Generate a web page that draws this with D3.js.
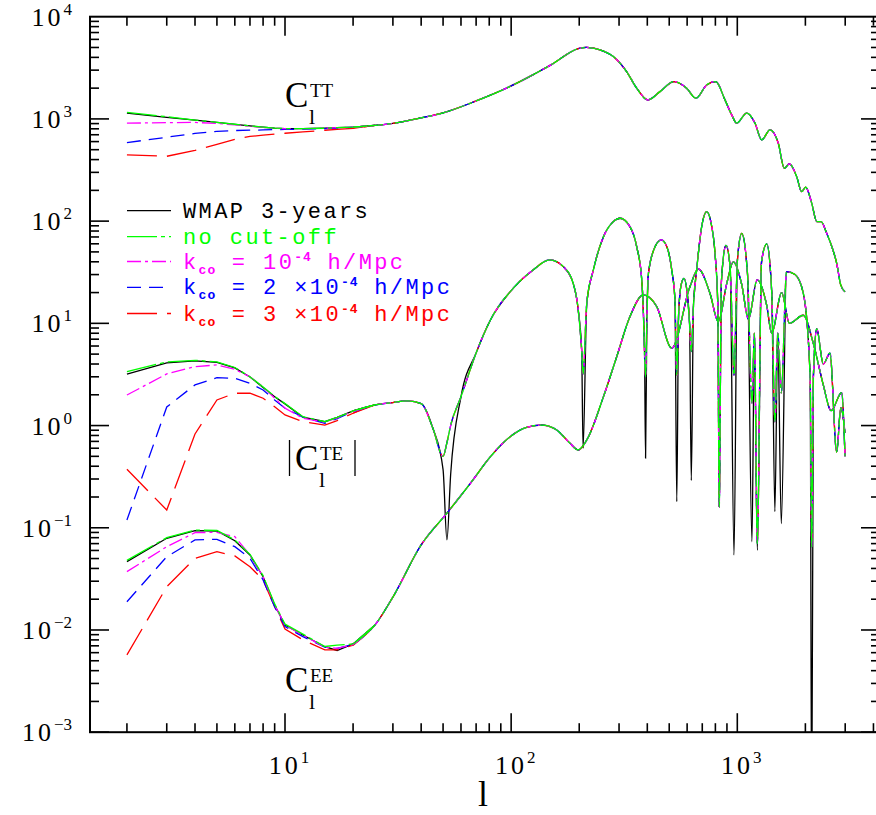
<!DOCTYPE html>
<html>
<head>
<meta charset="utf-8">
<script src="https://cdn.jsdelivr.net/npm/d3@7"></script>
<style>
body { margin: 0; background: #fff; }
text { font-family: "Liberation Serif", serif; }
.leg { font-family: "Liberation Mono", monospace; }
</style>
</head>
<body>
<svg id="chart" width="876" height="815"></svg>
<script>
// multipoles sampled at low l (every model has its own values here)
var lowL = [2, 3, 4, 5, 6, 7, 8, 9, 10, 12, 15, 17, 20]

// order: WMAP, no cut-off, 1e-4, 2e-4, 3e-4
var ttLow = [
    [1137, 1037, 971, 924, 886, 854, 829, 811, 804, 803, 811, 820, 831],
    [1160, 1050, 975, 926, 887, 855, 830, 812, 805, 803, 811, 820, 831],
    [908, 920, 924, 903, 874, 848, 826, 811, 804, 803, 811, 820, 831],
    [586, 662, 721, 755, 770, 776, 780, 786, 789, 793, 804, 812, 831],
    [444, 431, 492, 563, 632, 674, 693, 710, 724, 746, 775, 790, 807]
]
var teLow = [
    [3.18, 4.10, 4.29, 4.16, 3.66, 2.99, 2.36, 1.91, 1.63, 1.21, 1.09, 1.2, 1.39],
    [3.37, 4.2, 4.35, 4.2, 3.7, 3.0, 2.38, 1.93, 1.64, 1.22, 1.09, 1.2, 1.39],
    [1.99, 3.2, 3.77, 3.92, 3.55, 3.0, 2.40, 1.85, 1.48, 1.18, 1.08, 1.19, 1.38],
    [0.119, 1.52, 2.50, 2.94, 2.90, 2.59, 2.23, 1.78, 1.48, 1.21, 1.05, 1.17, 1.37],
    [0.374, 0.149, 0.828, 1.78, 2.07, 2.07, 1.85, 1.53, 1.27, 1.09, 1.01, 1.12, 1.32]
]
var eeLow = [
    [0.0466, 0.0789, 0.0937, 0.0930, 0.0747, 0.0542, 0.0332, 0.01756, 0.01119, 0.00894, 0.00686, 0.0063, 0.0073],
    [0.048, 0.080, 0.095, 0.094, 0.076, 0.055, 0.034, 0.018, 0.0114, 0.0091, 0.0069, 0.0071, 0.0073],
    [0.0372, 0.0653, 0.0895, 0.0902, 0.0818, 0.0542, 0.0332, 0.0176, 0.0112, 0.0089, 0.0068, 0.0066, 0.0072],
    [0.0189, 0.0521, 0.076, 0.0771, 0.0653, 0.0503, 0.0309, 0.0169, 0.0108, 0.0086, 0.0068, 0.0066, 0.0072],
    [0.0057, 0.0265, 0.0503, 0.0584, 0.053, 0.0416, 0.0309, 0.0169, 0.0102, 0.0080, 0.0064, 0.0064, 0.0071]
]

// higher l, the same for all curves
var ttL = [25, 30, 40, 50, 70, 100, 150, 200, 215, 247, 283, 324, 359, 402, 455, 525, 597, 657, 732, 803, 882, 945, 994, 1100, 1198, 1282, 1395, 1518, 1614, 1698, 1830, 1926, 2006, 2133, 2245, 2345, 2485, 2632, 2751, 2866, 2994]
var tt = [864, 904, 1023, 1145, 1500, 2102, 3377, 4900, 5000, 4733, 4070, 2903, 1997, 1535, 1850, 2317, 1997, 1594, 2151, 2317, 1535, 1094, 908, 1137, 908, 623, 781, 578, 329, 363, 273, 194, 215, 150, 98.9, 98.9, 76.1, 54.3, 38.7, 23.8, 20.4]

var eeL = [25, 30, 40, 52, 66, 81, 99, 117, 137, 159, 182, 198, 216, 256, 293, 335, 384, 440, 513, 618, 672, 757, 824, 900, 960, 1046, 1120, 1225, 1349, 1420, 1570, 1700, 1958, 2167, 2400, 2600, 2894, 2994]
var ee = [0.0112, 0.021, 0.0679, 0.139, 0.272, 0.496, 0.779, 0.962, 1.01, 0.906, 0.671, 0.577, 0.723, 1.92, 4.72, 11.6, 19.0, 14.6, 5.71, 22.9, 34.1, 19.7, 10.4, 25, 40, 24, 11, 26.6, 15, 8, 20, 10, 12, 6.4, 2.5, 1.4, 2.1, 0.5]

// |TE|: WMAP reaches deep into every zero crossing, the cut-off runs less so
var teL = [25, 30, 35, 40, 45, 50, 52, 54, 60, 70, 81, 102, 125, 148, 170, 188, 198, 205, 208, 216, 231, 256, 283, 303, 335, 359, 378, 384, 389, 393, 398, 404, 433, 461, 488, 513, 530, 540, 550, 565, 581, 600, 615, 626, 640, 661, 700, 732, 770, 797, 820, 832, 850, 891, 930, 967, 1000, 1046, 1110, 1161, 1190, 1226, 1280, 1349, 1420, 1466, 1510, 1565, 1652, 1800, 1958, 2100, 2133, 2170, 2245, 2400, 2570, 2750, 2870, 2994]
var teWmap = [1.59, 1.68, 1.74, 1.64, 0.95, 0.37, 0.076, 0.33, 1.91, 5.13, 10.8, 22, 33.3, 41.7, 35.9, 24.7, 13.5, 5.5, 0.6, 15.7, 33.3, 70.5, 98.9, 106.7, 88.4, 56.3, 26.6, 13.5, 5, 0.48, 10, 30, 56.3, 65.5, 56.3, 33.3, 16.9, 0.18, 12, 24, 27.6, 20, 10, 0.29, 15, 33.3, 95, 124, 90, 48.5, 15, 0.16, 25, 58, 35, 0.054, 40, 76, 30, 0.073, 8, 0.06, 40, 60, 20, 0.144, 8, 0.11, 32, 30, 19.7, 3, 0.0001, 3, 8.8, 4, 5.1, 0.55, 1.5, 0.85]
var teModel = [1.59, 1.68, 1.74, 1.64, 0.95, 0.5, 0.68, 1.0, 1.91, 5.13, 10.8, 22, 33.3, 41.7, 35.9, 24.7, 13.5, 5.5, 3.2, 15.7, 33.3, 70.5, 98.9, 106.7, 88.4, 56.3, 26.6, 13.5, 5, 3.0, 10, 30, 56.3, 65.5, 56.3, 33.3, 16.9, 3.1, 12, 24, 27.6, 20, 10, 5.3, 15, 33.3, 95, 124, 90, 48.5, 15, 0.16, 25, 58, 35, 3.1, 40, 76, 30, 1.66, 8, 0.07, 40, 60, 20, 1.09, 8, 2.08, 32, 30, 19.7, 3, 0.065, 3, 8.8, 4, 5.1, 0.55, 1.5, 0.85]

var names = ["WMAP 3-years", "no cut-off", "1", "2", "3"]
var colors = ["#000000", "#00ff00", "#ff00ff", "#0000ff", "#ff0000"]
var dashes = [null, "30,4,4,4", "14,4,3,4", "14,8", "30,10"]

var xTicks = [2, 3, 4, 5, 6, 7, 8, 9, 10, 20, 30, 40, 50, 60, 70, 80, 90, 100, 200, 300, 400, 500, 600, 700, 800, 900, 1000, 2000, 3000, 4000]
var xLabels = [10, 100, 1000]
var yLabels = [1e-3, 1e-2, 1e-1, 1, 10, 100, 1000, 10000]

var svg = d3.select("#chart")
var fx0 = 90, fx1 = 880, fy0 = 16.7, fy1 = 732.2

var x = d3.scaleLog().domain([10, 1000]).range([285, 737.3])
var y = d3.scaleLog().domain([1e-3, 1e4]).range([fy1, fy0])

svg.append("clipPath").attr("id", "frame")
    .append("rect").attr("x", fx0).attr("y", fy0).attr("width", fx1 - fx0).attr("height", fy1 - fy0)

function pts(ls, vs) {
    return ls.map(function(l, i) { return { l: l, v: vs[i] } })
}

// low l points are joined straight, the rest smoothly
var lineLow = d3.line()
    .x(function(d) { return x(d.l) })
    .y(function(d) { return y(d.v) })
var lineHigh = d3.line()
    .x(function(d) { return x(d.l) })
    .y(function(d) { return y(d.v) })
    .curve(d3.curveMonotoneX)

var curves = svg.append("g").attr("clip-path", "url(#frame)")
var order = [0, 4, 3, 2, 1]

function drawCurve(d, s) {
    curves.append("path")
        .attr("d", d)
        .attr("fill", "none")
        .attr("stroke", colors[s])
        .attr("stroke-width", 1.3)
        .attr("stroke-dasharray", dashes[s])
}

order.forEach(function(s) {
    var sets = [
        [ttLow[s], ttL, tt],
        [teLow[s], teL, s === 0 ? teWmap : teModel],
        [eeLow[s], eeL, ee]
    ]
    sets.forEach(function(set) {
        var low = pts(lowL, set[0])
        var high = pts(set[1], set[2])
        drawCurve(lineLow(low.concat([high[0]])), s)
        drawCurve(lineHigh([low[low.length - 1]].concat(high)), s)
    })
})

// frame and ticks
var axes = svg.append("g").attr("stroke", "#000").attr("stroke-width", 1.6)
axes.append("rect").attr("x", fx0).attr("y", fy0).attr("width", fx1 - fx0).attr("height", fy1 - fy0)
    .attr("fill", "none").attr("stroke-width", 2)

xTicks.forEach(function(t) {
    var px = x(t)
    if (px <= fx0 || px >= fx1) return
    var len = xLabels.indexOf(t) >= 0 ? 19 : 9
    axes.append("line").attr("x1", px).attr("x2", px).attr("y1", fy1).attr("y2", fy1 - len)
    axes.append("line").attr("x1", px).attr("x2", px).attr("y1", fy0).attr("y2", fy0 + len)
})

for (var k = -3; k <= 3; k++) {
    for (var m = 1; m <= 9; m++) {
        var v = m * Math.pow(10, k)
        var py = y(v)
        var len = m === 1 ? 19 : 9
        axes.append("line").attr("x1", fx0).attr("x2", fx0 + len).attr("y1", py).attr("y2", py)
        axes.append("line").attr("x1", fx1).attr("x2", fx1 - len).attr("y1", py).attr("y2", py)
    }
}

// tick labels
yLabels.forEach(function(v) {
    var t = svg.append("text").attr("x", 72).attr("y", y(v) + 9)
        .attr("text-anchor", "end").attr("font-size", 26).attr("letter-spacing", 3)
    t.append("tspan").text("10")
    t.append("tspan").attr("font-size", 17).attr("dy", -11).attr("letter-spacing", 0)
        .text(String(Math.round(Math.log10(v))).replace("-", "\u2212"))
})

xLabels.forEach(function(v) {
    var t = svg.append("text").attr("x", x(v) + 4).attr("y", 774)
        .attr("text-anchor", "middle").attr("font-size", 26).attr("letter-spacing", 3)
    t.append("tspan").text("10")
    t.append("tspan").attr("font-size", 17).attr("dy", -11).attr("letter-spacing", 0)
        .text(Math.round(Math.log10(v)))
})

svg.append("text").attr("x", 483).attr("y", 806).attr("text-anchor", "middle")
    .attr("font-size", 36).text("l")

// curve names
function clabel(cx, base, sup) {
    svg.append("text").attr("x", cx).attr("y", base).attr("font-size", 35).text("C")
    svg.append("text").attr("x", cx + 25).attr("y", base - 10).attr("font-size", 19).text(sup)
    svg.append("text").attr("x", cx + 24).attr("y", base + 17).attr("font-size", 22).text("l")
}
clabel(285, 106.7, "TT")
clabel(295, 470, "TE")
clabel(285, 692, "EE")
svg.append("line").attr("x1", 289.5).attr("x2", 289.5).attr("y1", 440).attr("y2", 476).attr("stroke", "#000").attr("stroke-width", 1.3)
svg.append("line").attr("x1", 355).attr("x2", 355).attr("y1", 440).attr("y2", 476).attr("stroke", "#000").attr("stroke-width", 1.3)

// legend
var rows = [210.7, 236.7, 261.5, 287.3, 313.5]
var leg = svg.append("g")
rows.forEach(function(ry, s) {
    leg.append("line").attr("x1", 127).attr("x2", 171).attr("y1", ry).attr("y2", ry)
        .attr("stroke", colors[s]).attr("stroke-width", 1.3).attr("stroke-dasharray", dashes[s])
    var t = leg.append("text").attr("class", "leg").attr("x", 183).attr("y", ry + 7)
        .attr("fill", colors[s]).attr("font-size", 22).attr("letter-spacing", 2.4)
    if (s < 2) {
        t.text(names[s])
        return
    }
    t.append("tspan").text("k")
    t.append("tspan").attr("font-size", 13).attr("dy", 5).attr("font-weight", "bold").attr("letter-spacing", 1).text("co")
    t.append("tspan").attr("dy", -5).text(s === 2 ? " = 10" : " = " + names[s] + " \u00d710")
    t.append("tspan").attr("font-size", 13).attr("dy", -8).attr("font-weight", "bold").attr("letter-spacing", 1).text("-4")
    t.append("tspan").attr("dy", 8).text(" h/Mpc")
})
</script>
</body>
</html>
